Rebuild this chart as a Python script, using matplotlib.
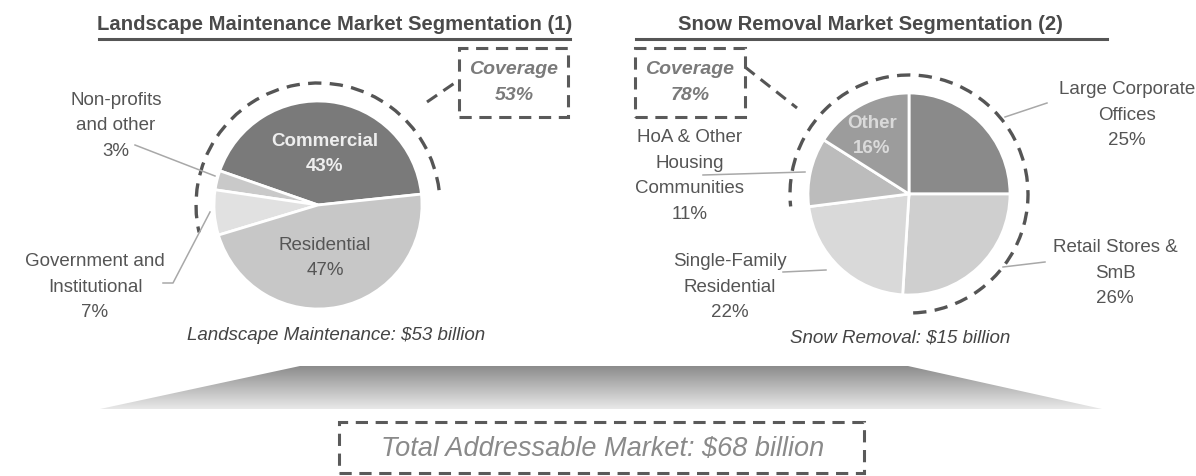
import numpy as np
import matplotlib
matplotlib.use("Agg")
import matplotlib.pyplot as plt
from matplotlib.patches import Arc, Rectangle, Polygon

# Chart data
land_labels = ["Commercial", "Non-profits\nand other", "Government and\nInstitutional", "Residential"]
land_shares = [43, 3, 7, 47]
land_colors = ["#7a7a7a", "#c9c9c9", "#e1e1e1", "#c7c7c7"]

snow_labels = ["Large Corporate\nOffices", "Retail Stores &\nSmB", "Single-Family\nResidential",
               "HoA & Other\nHousing\nCommunities", "Other"]
snow_shares = [25, 26, 22, 11, 16]
snow_colors = ["#8a8a8a", "#cfcfcf", "#d9d9d9", "#bcbcbc", "#9c9c9c"]

titles = ["Landscape Maintenance Market Segmentation (1)", "Snow Removal Market Segmentation (2)"]
coverage = [53, 78]
markets = ["Landscape Maintenance", "Snow Removal"]
market_size = [53, 15]
total_size = 68

W, H = 1196, 476
FONT = ["Liberation Sans", "DejaVu Sans"]
TXT = "#555555"
DASH = (0, (4, 2.5))

fig = plt.figure(figsize=(W / 100, H / 100), dpi=100)
ax = fig.add_axes([0, 0, 1, 1])


def Y(y):
    # pixel row -> data y
    return H - y


def label(x, y, s, **kw):
    opts = dict(ha="center", va="center", fontsize=13.5, color=TXT, family=FONT, linespacing=1.65)
    opts.update(kw)
    ax.text(x, Y(y), s, **opts)


def leader(xs, ys):
    ax.plot(xs, [Y(v) for v in ys], color="#a8a8a8", lw=1.1, zorder=1)


def dashed_box(x0, y0, x1, y1):
    ax.add_patch(Rectangle((x0, Y(y1)), x1 - x0, y1 - y0, fill=False, ec="#5a5a5a",
                           lw=2.2, ls=DASH, zorder=3))


# Pies
wp = dict(edgecolor="white", linewidth=2)
ax.pie(land_shares, colors=land_colors, startangle=6, counterclock=True,
       center=(318, Y(205)), radius=104, wedgeprops=wp, frame=True)
ax.pie(snow_shares, colors=snow_colors, startangle=90, counterclock=False,
       center=(909, Y(194)), radius=101, wedgeprops=wp, frame=True)

# Dashed coverage arcs
ax.add_patch(Arc((318, Y(205)), 244, 244, theta1=7, theta2=193, color="#555555", lw=2.4, ls=DASH))
ax.add_patch(Arc((909, Y(194)), 238, 238, theta1=-88, theta2=186, color="#555555", lw=2.4, ls=DASH))

# Coverage boxes and connectors
dashed_box(459, 48, 568, 117)
ax.plot([427, 459], [Y(102), Y(80)], color="#555555", lw=2.2, ls=DASH)
label(514, 70, "Coverage", style="italic", weight="bold", color="#7a7a7a", fontsize=14)
label(514, 95, f"{coverage[0]}%", style="italic", weight="bold", color="#7a7a7a", fontsize=14)

dashed_box(635, 48, 745, 117)
ax.plot([745, 797], [Y(67), Y(108)], color="#555555", lw=2.2, ls=DASH)
label(690, 70, "Coverage", style="italic", weight="bold", color="#7a7a7a", fontsize=14)
label(690, 95, f"{coverage[1]}%", style="italic", weight="bold", color="#7a7a7a", fontsize=14)

# Titles with underline
label(335, 25, titles[0], weight="bold", fontsize=14.6, color="#4a4a4a")
ax.plot([99, 570], [Y(39), Y(39)], color="#555555", lw=2.2)
label(870, 25, titles[1], weight="bold", fontsize=14.6, color="#4a4a4a")
ax.plot([636, 1107], [Y(39), Y(39)], color="#555555", lw=2.2)

# Landscape labels
label(325, 154, f"{land_labels[0]}\n{land_shares[0]}%", weight="bold", color="#eeeeee")
label(325, 258, f"{land_labels[3]}\n{land_shares[3]}%")
label(116, 126, f"{land_labels[1]}\n{land_shares[1]}%")
leader([135, 215], [145, 176])
label(95, 287, f"{land_labels[2]}\n{land_shares[2]}%")
leader([163, 173, 210], [283, 283, 212])

# Snow labels
label(1127, 115, f"{snow_labels[0]}\n{snow_shares[0]}%")
leader([1047, 1005], [103, 117])
label(1115, 273, f"{snow_labels[1]}\n{snow_shares[1]}%")
leader([1045, 1003], [262, 267])
label(730, 287, f"{snow_labels[2]}\n{snow_shares[2]}%")
leader([783, 826], [272, 270])
label(690, 176, f"{snow_labels[3]}\n{snow_shares[3]}%")
leader([703, 805], [175, 172])
label(872, 136, f"{snow_labels[4]}\n{snow_shares[4]}%", weight="bold", color="#dadada")

# Market captions
label(336, 336, f"{markets[0]}: ${market_size[0]} billion", style="italic", color="#444444")
label(900, 338, f"{markets[1]}: ${market_size[1]} billion", style="italic", color="#444444")

# Gradient trapezoid
trap = Polygon([(300, Y(366)), (908, Y(366)), (1102, Y(409)), (100, Y(409))],
               closed=True, fc="none", ec="none")
ax.add_patch(trap)
grad = np.linspace(0, 1, 100).reshape(-1, 1)
img = ax.imshow(grad, cmap=matplotlib.colors.LinearSegmentedColormap.from_list(
    "g", ["#8c8c8c", "#e8e8e8"]), extent=[100, 1102, Y(409), Y(366)], aspect="auto", zorder=1)
img.set_clip_path(trap)

# Total box
dashed_box(339, 422, 864, 473)
label(603, 449, f"Total Addressable Market: ${total_size} billion", style="italic",
      color="#8a8a8a", fontsize=19.5)

ax.set_xlim(0, W)
ax.set_ylim(0, H)
ax.set_aspect("auto")
ax.axis("off")

fig.savefig("out.png", dpi=100)
